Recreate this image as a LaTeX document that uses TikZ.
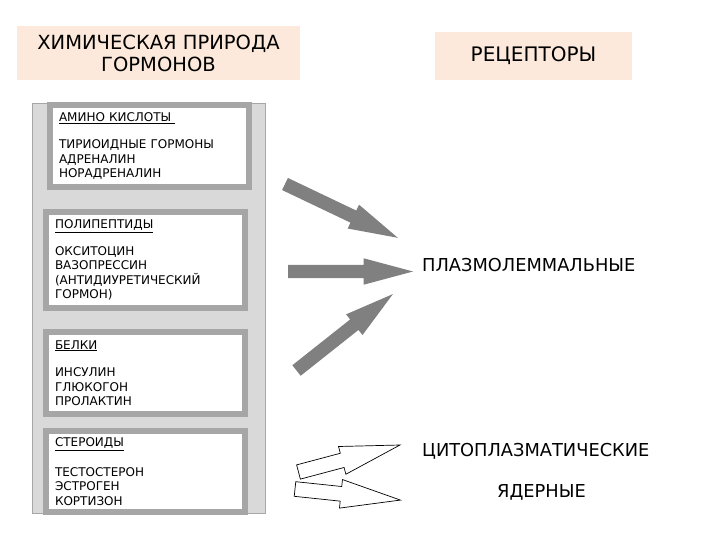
\documentclass[tikz,border=0pt]{standalone}
\usepackage{fontspec}
\setmainfont{DejaVu Sans}
\usetikzlibrary{shapes.arrows}

\definecolor{peach}{RGB}{252,233,219}
\definecolor{panelgrey}{RGB}{217,217,217}
\definecolor{framegrey}{RGB}{166,166,166}
\definecolor{arrowgrey}{RGB}{128,128,128}

\begin{document}
\begin{tikzpicture}[x=1pt, y=-1pt,
    titlebox/.style={fill=peach, inner sep=0pt, align=center, font=\fontsize{19.5}{22}\selectfont},
    classbox/.style={draw=framegrey, line width=6pt, fill=white, text width=181pt, inner xsep=9pt, inner ysep=0pt, align=left, font=\fontsize{12}{14.5}\selectfont},
    rectext/.style={inner sep=0pt, anchor=base west, font=\fontsize{17.8}{22}\selectfont},
    fatarrow/.style={single arrow, fill=arrowgrey, inner sep=6.5pt, outer sep=0pt, single arrow head extend=6.5pt, single arrow tip angle=30, minimum height=125pt, anchor=tail},
    hollowarrow/.style={single arrow, draw=black, line width=0.7pt, fill=white, inner sep=7pt, outer sep=0pt, single arrow head extend=7pt, single arrow tip angle=27, minimum height=105pt, anchor=tail}
]
    \useasboundingbox[fill=white] (0,0) rectangle (720,540);

    % headings
    \node[titlebox, minimum width=283pt, minimum height=54pt] (chem) at (158.5,53) {ХИМИЧЕСКАЯ ПРИРОДА\\ГОРМОНОВ};
    \node[titlebox, minimum width=197pt, minimum height=48pt, font=\fontsize{20}{22}\selectfont] (rec) at (533.5,56) {РЕЦЕПТОРЫ};

    % hormone classes
    \draw[draw=gray!70, fill=panelgrey] (32,103) rectangle (265,513);
    \node[classbox, minimum height=82pt] (amino) at (149.5,146) {\underline{АМИНО КИСЛОТЫ\ }\\[13pt]ТИРИОИДНЫЕ ГОРМОНЫ\\АДРЕНАЛИН\\НОРАДРЕНАЛИН};
    \node[classbox, minimum height=96pt] (poly) at (145.5,260) {\underline{ПОЛИПЕПТИДЫ}\\[12pt]ОКСИТОЦИН\\ВАЗОПРЕССИН\\(АНТИДИУРЕТИЧЕСКИЙ\\ГОРМОН)};
    \node[classbox, minimum height=82pt] (prot) at (145.5,373) {\underline{БЕЛКИ}\\[13pt]ИНСУЛИН\\ГЛЮКОГОН\\ПРОЛАКТИН};
    \node[classbox, minimum height=81pt] (ster) at (145.5,471.5) {\underline{СТЕРОИДЫ}\\[15pt]ТЕСТОСТЕРОН\\ЭСТРОГЕН\\КОРТИЗОН};

    % receptors
    \node[rectext] (plasma) at (422,271.5) {ПЛАЗМОЛЕММАЛЬНЫЕ};
    \node[rectext] (cyto) at (422,456.5) {ЦИТОПЛАЗМАТИЧЕСКИЕ};
    \node[rectext] (nucl) at (497,497) {ЯДЕРНЫЕ};

    % arrows
    \coordinate (t1) at (285,184);
    \coordinate (t2) at (288,271.5);
    \coordinate (t3) at (296.5,370.5);
    \coordinate (t4) at (298.5,472);
    \coordinate (t5) at (295,489);
    \node[fatarrow, rotate=-25.5] (a1) at (t1) {};
    \node[fatarrow] (a2) at (t2) {};
    \node[fatarrow, rotate=38.4, minimum height=123pt] (a3) at (t3) {};
    \node[hollowarrow, rotate=14.9] (a4) at (t4) {};
    \node[hollowarrow, rotate=-6, minimum height=106pt] (a5) at (t5) {};
\end{tikzpicture}
\end{document}
